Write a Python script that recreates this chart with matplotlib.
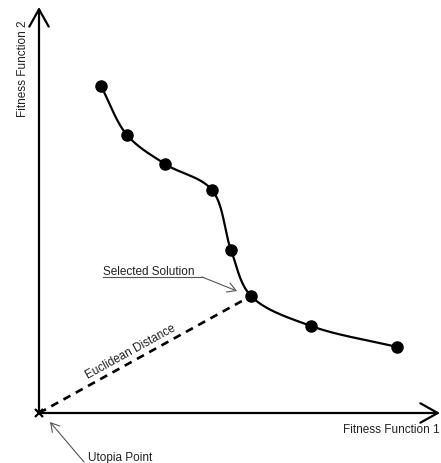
import numpy as np
import matplotlib
matplotlib.use("Agg")
import matplotlib.pyplot as plt

plt.rcParams["font.family"] = ["Liberation Sans", "DejaVu Sans"]

# Pareto front (arbitrary units, utopia point at origin)
f1 = [62, 88, 126, 173, 192, 212, 272, 358]
f2 = [327, 278, 249, 223, 163, 117, 87, 66]
selected = 5  # index of the selected solution
utopia = (0, 0)

x_label = "Fitness Function 1"
y_label = "Fitness Function 2"


def catmull_rom(xs, ys, n=40, alpha=0.5):
    # centripetal Catmull-Rom spline through the points
    p = np.column_stack([xs, ys]).astype(float)
    p = np.vstack([2 * p[0] - p[1], p, 2 * p[-1] - p[-2]])
    out = []
    for i in range(len(p) - 3):
        p0, p1, p2, p3 = p[i:i + 4]
        t0 = 0.0
        t1 = t0 + np.linalg.norm(p1 - p0) ** alpha
        t2 = t1 + np.linalg.norm(p2 - p1) ** alpha
        t3 = t2 + np.linalg.norm(p3 - p2) ** alpha
        t = np.linspace(t1, t2, n)[:, None]
        a1 = (t1 - t) / (t1 - t0) * p0 + (t - t0) / (t1 - t0) * p1
        a2 = (t2 - t) / (t2 - t1) * p1 + (t - t1) / (t2 - t1) * p2
        a3 = (t3 - t) / (t3 - t2) * p2 + (t - t2) / (t3 - t2) * p3
        b1 = (t2 - t) / (t2 - t0) * a1 + (t - t0) / (t2 - t0) * a2
        b2 = (t3 - t) / (t3 - t1) * a2 + (t - t1) / (t3 - t1) * a3
        c = (t2 - t) / (t2 - t1) * b1 + (t - t1) / (t2 - t1) * b2
        out.append(c)
    c = np.vstack(out)
    return c[:, 0], c[:, 1]


fig = plt.figure(figsize=(4.41, 4.64), dpi=100)
ax = fig.add_axes([0, 0, 1, 1])
ax.set_xlim(-39, 402)
ax.set_ylim(-50, 414)
ax.axis("off")

# Axes with open arrow heads
arrow_kw = dict(arrowstyle="->,head_length=1.25,head_width=0.7", lw=1.6, color="black",
                shrinkA=0, shrinkB=0)
ax.annotate("", xy=(0, 406), xytext=utopia, arrowprops=arrow_kw)
ax.annotate("", xy=(401, 0), xytext=utopia, arrowprops=arrow_kw)

# Pareto curve and solutions
cx, cy = catmull_rom(f1, f2)
ax.plot(cx, cy, color="black", lw=1.6, zorder=3)
ax.plot(f1, f2, "o", color="black", ms=8, zorder=4)

# Euclidean distance to selected solution
sx, sy = f1[selected], f2[selected]
ax.plot([utopia[0], sx], [utopia[1], sy], color="black", lw=1.9,
        dashes=(3, 2.3), zorder=2)
ang = np.degrees(np.arctan2(sy - utopia[1], sx - utopia[0]))
ax.text(0.43 * sx, 0.43 * sy + 12, "Euclidean Distance", rotation=ang,
        rotation_mode="anchor", ha="center", va="center", fontsize=8.5, color="#222222")

# Utopia marker
ax.plot(*utopia, marker="x", color="black", ms=6, mew=1.6, zorder=5)

# Annotations
ann_kw = dict(arrowstyle="->,head_length=0.6,head_width=0.35", lw=0.8, color="#555555",
              shrinkA=0, shrinkB=0)
ax.text(64, 142, "Selected Solution", ha="left", va="center", fontsize=8.5, color="#222222")
ax.plot([64, 163], [136, 136], color="#555555", lw=0.8)
ax.annotate("", xy=(sx - 14, sy + 5), xytext=(163, 136), arrowprops=ann_kw)

ax.text(49, -44, "Utopia Point", ha="left", va="center", fontsize=8.5, color="#222222")
ax.annotate("", xy=(utopia[0] + 11, utopia[1] - 9), xytext=(45, -49), arrowprops=ann_kw)

# Axis titles
ax.text(-16, 345, y_label, rotation=90, ha="center", va="center", fontsize=8.5, color="#222222")
ax.text(401, -16, x_label, ha="right", va="center", fontsize=8.5, color="#222222")

fig.savefig("out.png", dpi=100)
